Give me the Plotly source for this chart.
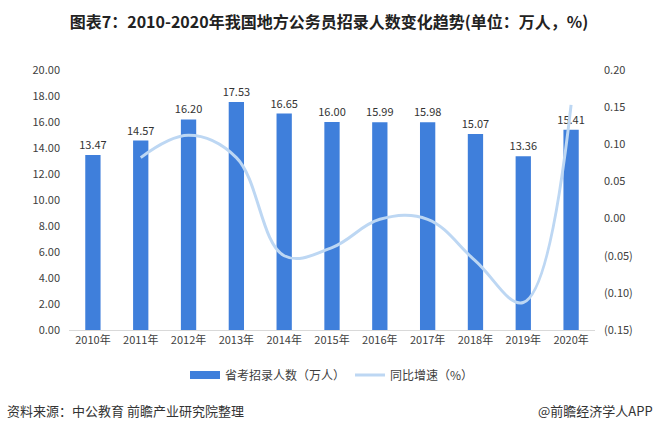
import plotly.graph_objects as go

years = ["2010年", "2011年", "2012年", "2013年", "2014年", "2015年", "2016年", "2017年", "2018年", "2019年", "2020年"]
recruits = [13.47, 14.57, 16.20, 17.53, 16.65, 16.00, 15.99, 15.98, 15.07, 13.36, 15.41]
growth_years = years[1:]
growth = [0.082, 0.112, 0.082, -0.050, -0.039, -0.001, -0.001, -0.057, -0.113, 0.153]

left_ticks = [0, 2, 4, 6, 8, 10, 12, 14, 16, 18, 20]
right_ticks = [-0.15, -0.10, -0.05, 0.00, 0.05, 0.10, 0.15, 0.20]
right_labels = ["(0.15)", "(0.10)", "(0.05)", "0.00", "0.05", "0.10", "0.15", "0.20"]

FONT = "Noto Sans CJK SC, Microsoft YaHei, sans-serif"
TXT = "#404040"
BAR = "#3F7FDB"
LINE = "#BDD7F3"

fig = go.Figure()
fig.add_trace(go.Bar(
    x=years, y=recruits, name="省考招录人数（万人）", showlegend=False,
    marker=dict(color=BAR, line=dict(width=0)),
    width=0.32,
    text=[f"{v:.2f}" for v in recruits], textposition="outside",
    constraintext="none",
    textfont=dict(size=11, color="#333333", family=FONT),
    cliponaxis=False, hoverinfo="skip",
))
fig.add_trace(go.Scatter(
    x=growth_years, y=growth, name="同比增速（%）", yaxis="y2", showlegend=False,
    mode="lines", line=dict(color=LINE, width=3, shape="spline", smoothing=1.1),
    hoverinfo="skip",
))
# legend entries
fig.add_trace(go.Scatter(x=[None], y=[None], name="省考招录人数（万人）", mode="lines",
                         line=dict(color=BAR, width=8)))
fig.add_trace(go.Scatter(x=[None], y=[None], name="同比增速（%）", mode="lines",
                         line=dict(color=LINE, width=3)))

fig.update_layout(
    width=658, height=431,
    margin=dict(l=69, r=63, t=70, b=101),
    paper_bgcolor="white", plot_bgcolor="white",
    font=dict(family=FONT, size=11, color=TXT),
    title=dict(text="<b>图表7：2010-2020年我国地方公务员招录人数变化趋势(单位：万人，%)</b>",
               x=0.5, xanchor="center", y=1 - 22/431, yanchor="middle",
               font=dict(size=16, color="#222222", family=FONT)),
    xaxis=dict(showline=True, linecolor="#D9D9D9", linewidth=1, ticks="",
               tickfont=dict(size=11, color=TXT), showgrid=False),
    yaxis=dict(range=[0, 20], tickvals=left_ticks, ticktext=[f"{v:.2f}" for v in left_ticks],
               showgrid=False, zeroline=False, ticks="", ticklabelstandoff=8,
               tickfont=dict(size=11, color=TXT)),
    yaxis2=dict(range=[-0.15, 0.20], overlaying="y", side="right",
                tickvals=right_ticks, ticktext=right_labels, showgrid=False, zeroline=False,
                ticks="", ticklabelstandoff=8, tickfont=dict(size=11, color=TXT)),
    legend=dict(orientation="h", x=0.5, xanchor="center", y=-45/260, yanchor="middle",
                font=dict(size=12, color=TXT), traceorder="normal", itemwidth=30),
    bargap=0.68,
    showlegend=True,
)

fig.add_annotation(text="资料来源：中公教育 前瞻产业研究院整理", xref="paper", yref="paper",
                   x=0, xshift=-64, y=-80/260, xanchor="left", yanchor="middle", showarrow=False,
                   font=dict(size=13, color="#333333", family=FONT))
fig.add_annotation(text="@前瞻经济学人APP", xref="paper", yref="paper",
                   x=1, xshift=60, y=-80/260, xanchor="right", yanchor="middle", showarrow=False,
                   font=dict(size=13, color="#333333", family=FONT))

fig.write_html("out.html", config={"displayModeBar": False},
               post_script="document.body.style.margin='0';")
